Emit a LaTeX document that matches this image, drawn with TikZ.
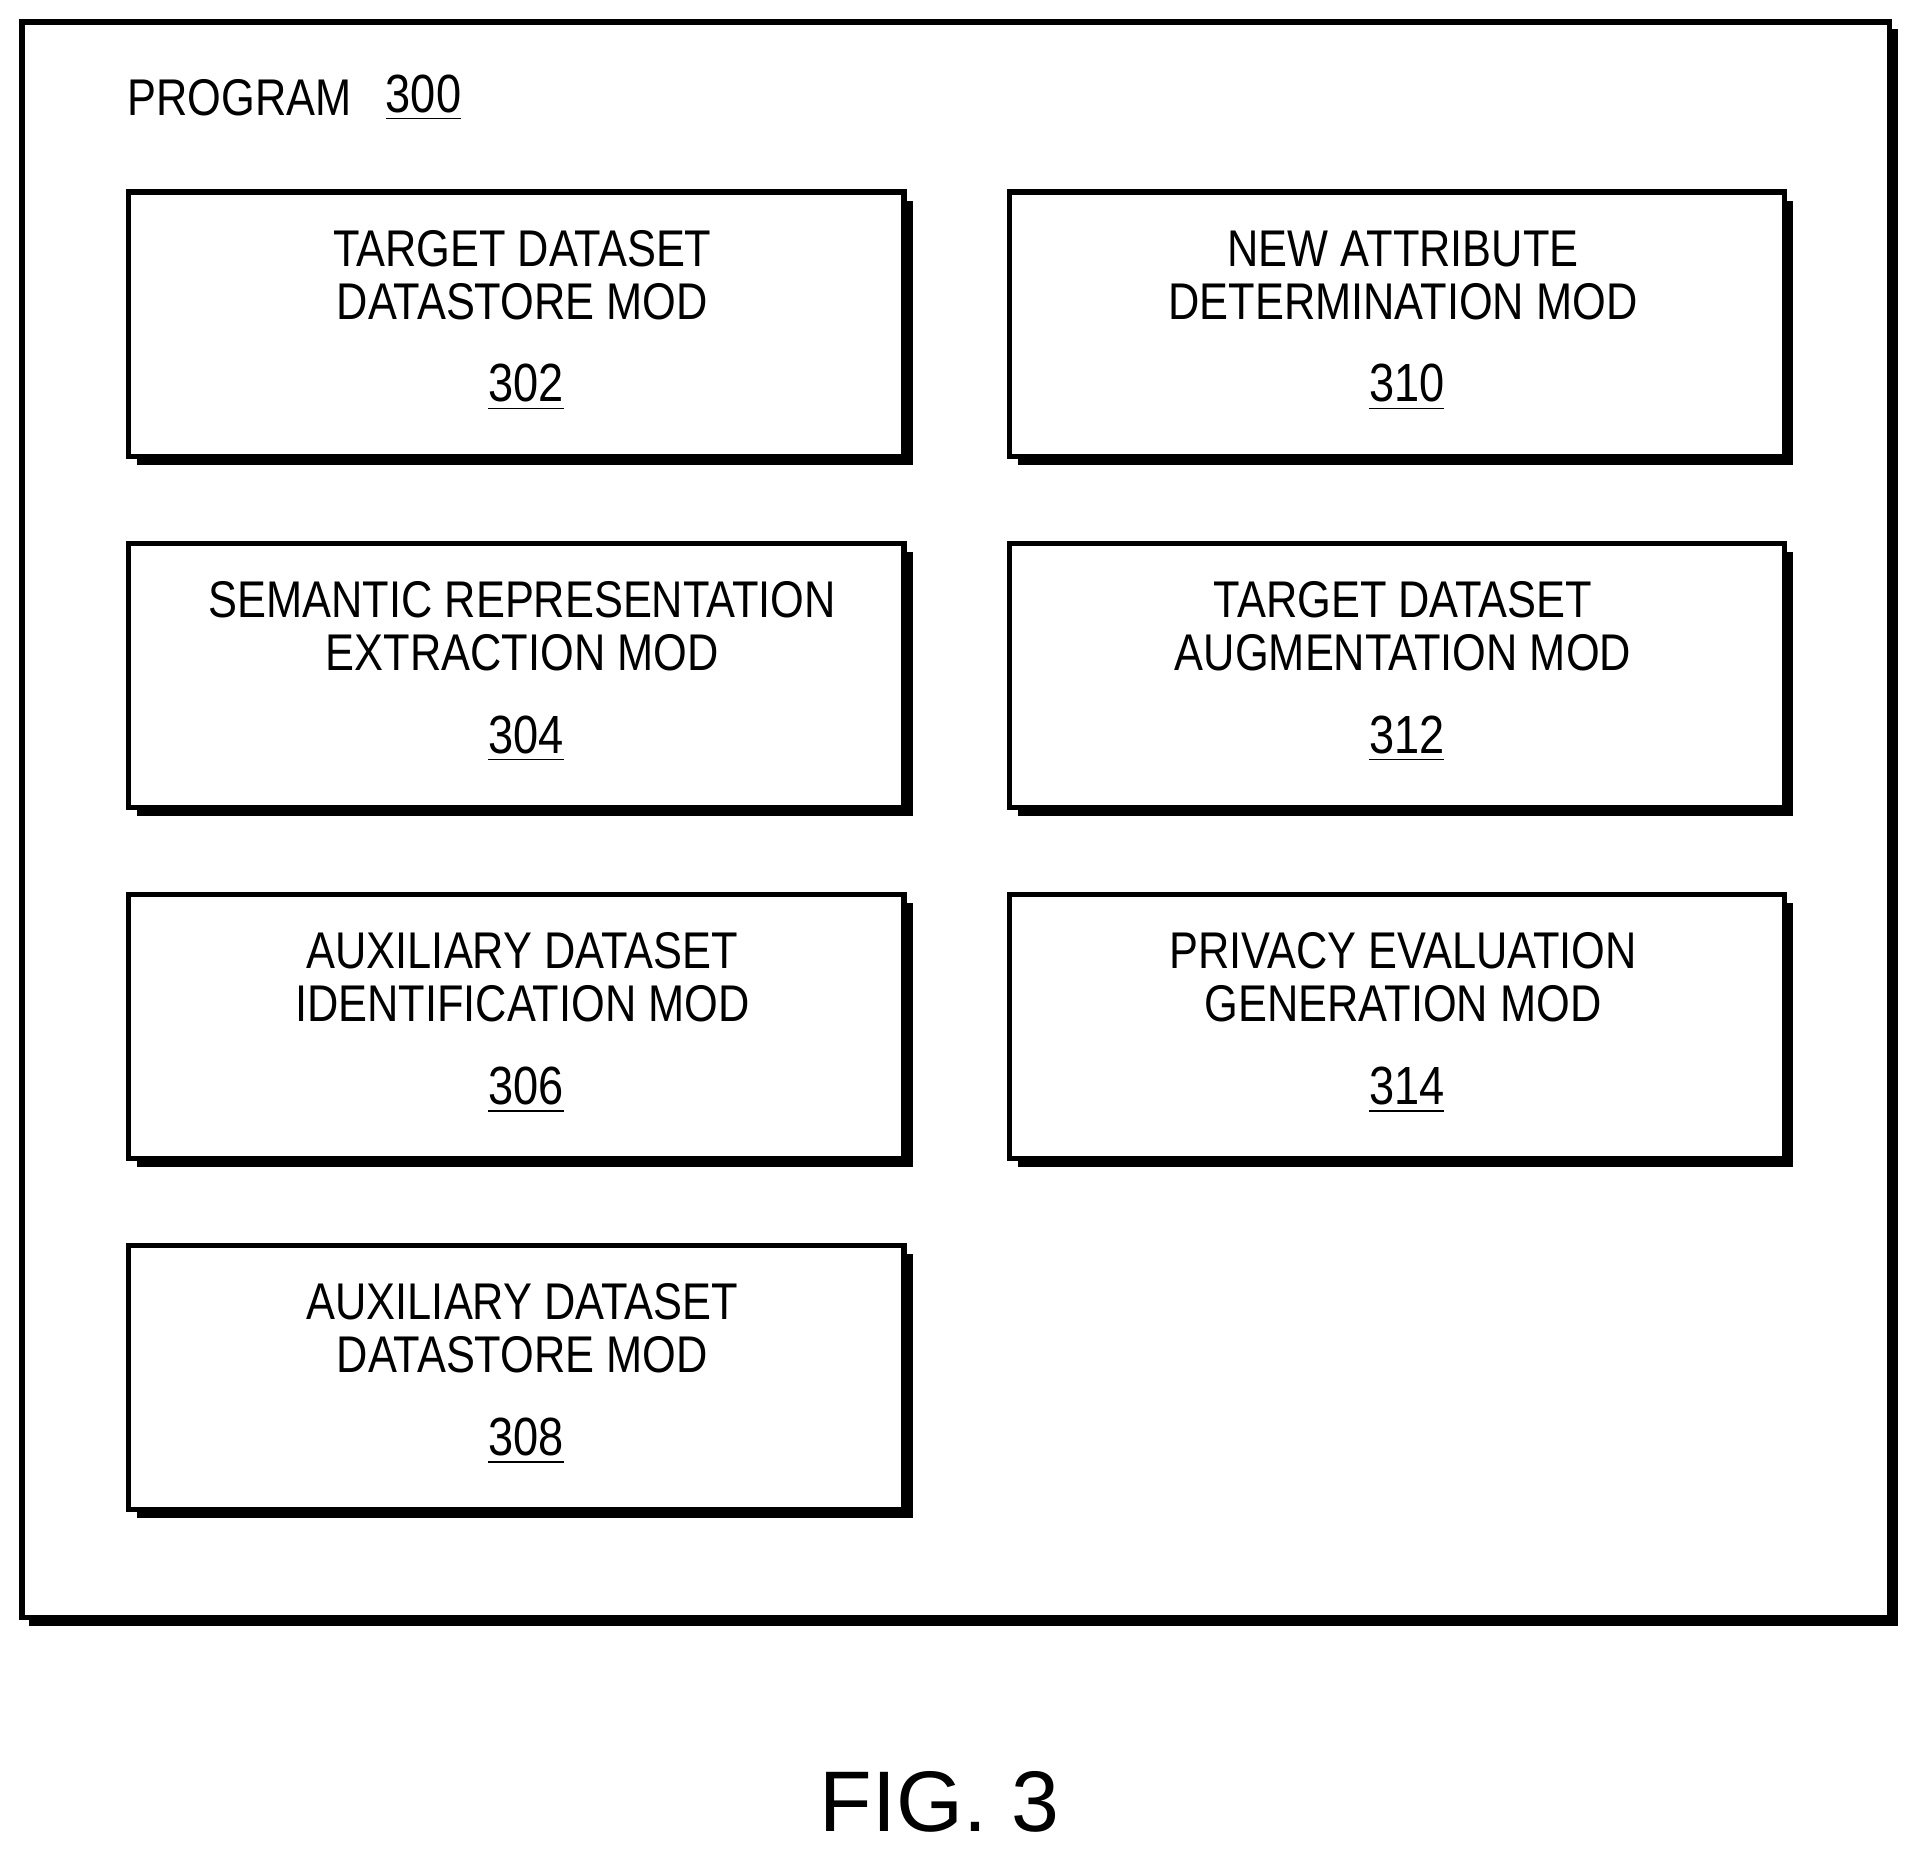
\documentclass[tikz,border=0pt]{standalone}
\usepackage{fontspec}
\setmainfont{Liberation Sans}
\newfontfamily\nar[FakeStretch=0.84]{Liberation Sans}
\begin{document}
\begin{tikzpicture}[x=0.01cm,y=-0.01cm,
  mod/.style={draw,line width=1.2pt,fill=white,minimum width=634\pgflinewidth,inner sep=0pt},
  txt/.style={font=\nar\fontsize{12}{13.3}\selectfont,align=center},
  num/.style={font=\nar\fontsize{12.5}{14}\selectfont}]
\useasboundingbox (0,0) rectangle (1568,1512);
\fill (24,24) rectangle (1552,1329);
\draw[line width=1.2pt,fill=white] (18,18) rectangle (1545,1322);
\node[txt,anchor=west] (prog) at (92,80) {PROGRAM};
\node[num,anchor=west] (p300) at (303,80) {\underline{300}};
\foreach \nm/\x/\y/\a/\b/\n in {
 m302/105/157/TARGET DATASET/DATASTORE MOD/302,
 m304/105/444/SEMANTIC REPRESENTATION/EXTRACTION MOD/304,
 m306/105/731/AUXILIARY DATASET/IDENTIFICATION MOD/306,
 m308/105/1018/AUXILIARY DATASET/DATASTORE MOD/308,
 m310/825/157/NEW ATTRIBUTE/DETERMINATION MOD/310,
 m312/825/444/TARGET DATASET/AUGMENTATION MOD/312,
 m314/825/731/PRIVACY EVALUATION/GENERATION MOD/314}{
  \fill (\x+7,\y+7) rectangle (\x+641,\y+223);
  \draw[line width=1.2pt,fill=white] (\x,\y) rectangle (\x+634,\y+216);
  \node[txt] (\nm t) at (\x+322,\y+68) {\a\\[-1pt]\b};
  \node[num] (\nm n) at (\x+325,\y+160) {\underline{\n}};
}
\node[font=\fontsize{20}{22}\selectfont] (fig) at (768,1473) {FIG. 3};
\end{tikzpicture}
\end{document}
